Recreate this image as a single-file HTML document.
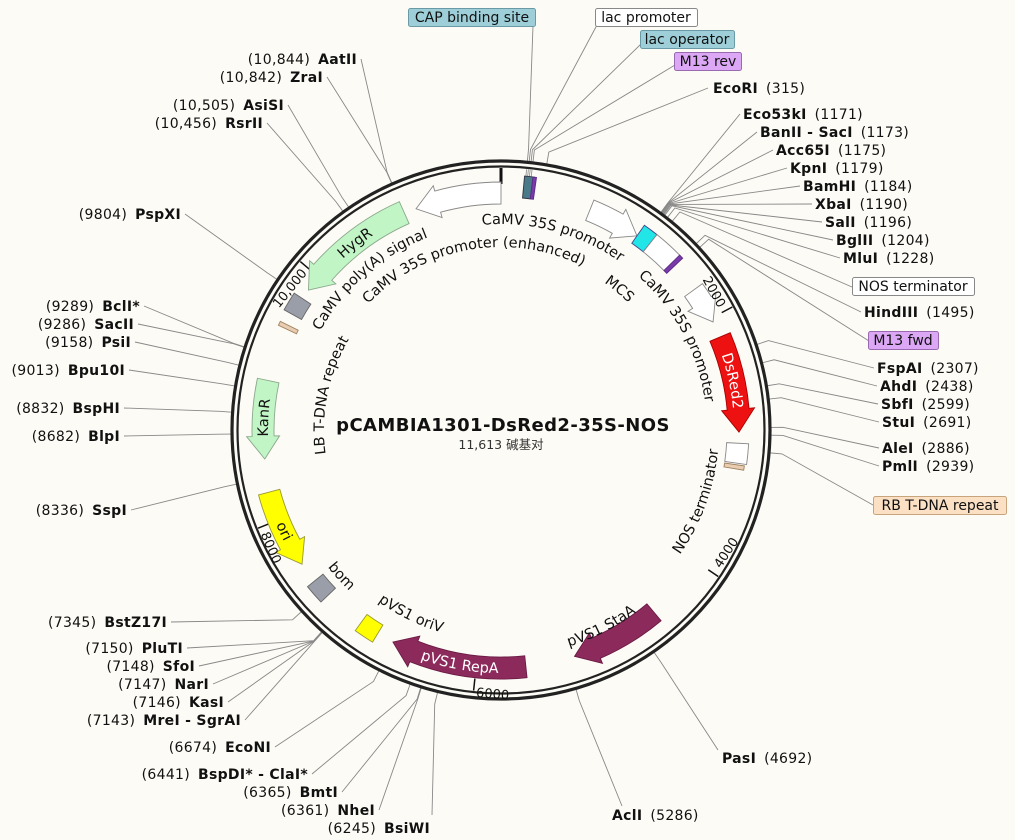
<!DOCTYPE html>
<html><head><meta charset="utf-8">
<style>
html,body{margin:0;padding:0;background:#fdfbf5;}
svg{display:block;font-family:"DejaVu Sans","Liberation Sans","Noto Sans CJK SC",sans-serif;}
.lb{font-size:14px;fill:#111;letter-spacing:0.3px;}
.lb .b{font-weight:bold;}
.ft{font-size:14.5px;fill:#111;}
.bx{font-size:14px;fill:#111;}
.tk{font-size:13px;fill:#111;}
</style></head>
<body>
<svg id="s" width="1015" height="840" viewBox="0 0 1015 840" xmlns="http://www.w3.org/2000/svg">
<rect width="1015" height="840" fill="#fdfbf5"/>
<defs id="defs"></defs>
<g id="lines" stroke="#888" stroke-width="0.9" fill="none"></g>
<g id="ring"></g>
<g id="feat"></g>

<!-- top feature boxes -->
<rect x="408.5" y="8.5" width="127" height="18" rx="2" fill="#9ecfd8" stroke="#6a9aa6"/>
<text class="bx" x="472" y="22" text-anchor="middle">CAP binding site</text>
<rect x="595.5" y="8.5" width="102" height="18" rx="2" fill="#fff" stroke="#888"/>
<text class="bx" x="646" y="22" text-anchor="middle">lac promoter</text>
<rect x="640.5" y="30.5" width="94" height="18" rx="2" fill="#9ecfd8" stroke="#6a9aa6"/>
<text class="bx" x="687" y="44" text-anchor="middle">lac operator</text>
<rect x="674.5" y="52.5" width="67" height="18" rx="2" fill="#dca8f5" stroke="#9a6ab0"/>
<text class="bx" x="708" y="66" text-anchor="middle">M13 rev</text>
<rect x="852.5" y="277.5" width="122" height="18" rx="2" fill="#fff" stroke="#888"/>
<text class="bx" x="913" y="291" text-anchor="middle">NOS terminator</text>
<rect x="868.5" y="331.5" width="70" height="18" rx="2" fill="#dca8f5" stroke="#9a6ab0"/>
<text class="bx" x="903" y="345" text-anchor="middle">M13 fwd</text>
<rect x="873.5" y="496.5" width="133" height="18" rx="2" fill="#fbe0c4" stroke="#c8a47c"/>
<text class="bx" x="940" y="510" text-anchor="middle">RB T-DNA repeat</text>

<!-- right labels -->
<g class="lb">
<text x="713" y="93"><tspan class="b">EcoRI</tspan><tspan dx="8">(315)</tspan></text>
<text x="743" y="119"><tspan class="b">Eco53kI</tspan><tspan dx="8">(1171)</tspan></text>
<text x="760" y="137"><tspan class="b">BanII - SacI</tspan><tspan dx="8">(1173)</tspan></text>
<text x="776" y="155"><tspan class="b">Acc65I</tspan><tspan dx="8">(1175)</tspan></text>
<text x="790" y="173"><tspan class="b">KpnI</tspan><tspan dx="8">(1179)</tspan></text>
<text x="803" y="191"><tspan class="b">BamHI</tspan><tspan dx="8">(1184)</tspan></text>
<text x="815" y="209"><tspan class="b">XbaI</tspan><tspan dx="8">(1190)</tspan></text>
<text x="825" y="227"><tspan class="b">SalI</tspan><tspan dx="8">(1196)</tspan></text>
<text x="836" y="245"><tspan class="b">BglII</tspan><tspan dx="8">(1204)</tspan></text>
<text x="843" y="263"><tspan class="b">MluI</tspan><tspan dx="8">(1228)</tspan></text>
<text x="864" y="317"><tspan class="b">HindIII</tspan><tspan dx="8">(1495)</tspan></text>
<text x="877" y="373"><tspan class="b">FspAI</tspan><tspan dx="8">(2307)</tspan></text>
<text x="880" y="391"><tspan class="b">AhdI</tspan><tspan dx="8">(2438)</tspan></text>
<text x="881" y="409"><tspan class="b">SbfI</tspan><tspan dx="8">(2599)</tspan></text>
<text x="882" y="427"><tspan class="b">StuI</tspan><tspan dx="8">(2691)</tspan></text>
<text x="882" y="453"><tspan class="b">AleI</tspan><tspan dx="8">(2886)</tspan></text>
<text x="882" y="471"><tspan class="b">PmlI</tspan><tspan dx="8">(2939)</tspan></text>
<text x="722" y="763"><tspan class="b">PasI</tspan><tspan dx="8">(4692)</tspan></text>
<text x="612" y="820"><tspan class="b">AclI</tspan><tspan dx="8">(5286)</tspan></text>
</g>
<!-- left labels -->
<g class="lb" text-anchor="end">
<text x="357" y="64">(10,844)<tspan class="b" dx="8">AatII</tspan></text>
<text x="323" y="82">(10,842)<tspan class="b" dx="8">ZraI</tspan></text>
<text x="284" y="110">(10,505)<tspan class="b" dx="8">AsiSI</tspan></text>
<text x="263" y="128">(10,456)<tspan class="b" dx="8">RsrII</tspan></text>
<text x="181" y="219">(9804)<tspan class="b" dx="8">PspXI</tspan></text>
<text x="140" y="311">(9289)<tspan class="b" dx="8">BclI*</tspan></text>
<text x="134" y="329">(9286)<tspan class="b" dx="8">SacII</tspan></text>
<text x="131" y="347">(9158)<tspan class="b" dx="8">PsiI</tspan></text>
<text x="125" y="375">(9013)<tspan class="b" dx="8">Bpu10I</tspan></text>
<text x="120" y="413">(8832)<tspan class="b" dx="8">BspHI</tspan></text>
<text x="120" y="441">(8682)<tspan class="b" dx="8">BlpI</tspan></text>
<text x="127" y="515">(8336)<tspan class="b" dx="8">SspI</tspan></text>
<text x="167" y="627">(7345)<tspan class="b" dx="8">BstZ17I</tspan></text>
<text x="183" y="653">(7150)<tspan class="b" dx="8">PluTI</tspan></text>
<text x="195" y="671">(7148)<tspan class="b" dx="8">SfoI</tspan></text>
<text x="209" y="689">(7147)<tspan class="b" dx="8">NarI</tspan></text>
<text x="224" y="707">(7146)<tspan class="b" dx="8">KasI</tspan></text>
<text x="241" y="725">(7143)<tspan class="b" dx="8">MreI - SgrAI</tspan></text>
<text x="271" y="752">(6674)<tspan class="b" dx="8">EcoNI</tspan></text>
<text x="308" y="779">(6441)<tspan class="b" dx="8">BspDI* - ClaI*</tspan></text>
<text x="338" y="797">(6365)<tspan class="b" dx="8">BmtI</tspan></text>
<text x="375" y="815">(6361)<tspan class="b" dx="8">NheI</tspan></text>
<text x="430" y="833">(6245)<tspan class="b" dx="8">BsiWI</tspan></text>
</g>

<!-- centre -->
<text x="503" y="431" text-anchor="middle" font-size="18" font-weight="bold" fill="#111" letter-spacing="0.4">pCAMBIA1301-DsRed2-35S-NOS</text>
<text x="501" y="449" text-anchor="middle" font-size="12.5" fill="#333" font-family="'DejaVu Sans','Noto Sans CJK SC',sans-serif">11,613 碱基对</text>

<!-- curved feature labels -->
<g class="ft">
<text><textPath href="#tp1" startOffset="50%" text-anchor="middle">CaMV 35S promoter</textPath></text>
<text><textPath href="#tp2" startOffset="50%" text-anchor="middle">CaMV 35S promoter (enhanced)</textPath></text>
<text><textPath href="#tp3" startOffset="50%" text-anchor="middle">CaMV poly(A) signal</textPath></text>
<text><textPath href="#tp4" startOffset="50%" text-anchor="middle">MCS</textPath></text>
<text><textPath href="#tp5" startOffset="50%" text-anchor="middle">CaMV 35S promoter</textPath></text>
<text><textPath href="#tp6" startOffset="50%" text-anchor="middle">NOS terminator</textPath></text>
<text><textPath href="#tp7" startOffset="50%" text-anchor="middle">LB T-DNA repeat</textPath></text>
<text><textPath href="#tp8" startOffset="50%" text-anchor="middle">HygR</textPath></text>
<text><textPath href="#tp9" startOffset="50%" text-anchor="middle">KanR</textPath></text>
<text><textPath href="#tp10" startOffset="50%" text-anchor="middle">ori</textPath></text>
<text><textPath href="#tp11" startOffset="50%" text-anchor="middle">bom</textPath></text>
<text><textPath href="#tp12" startOffset="50%" text-anchor="middle">pVS1 oriV</textPath></text>
<text fill="#fff"><textPath href="#tp13" startOffset="50%" text-anchor="middle">pVS1 RepA</textPath></text>
<text><textPath href="#tp14" startOffset="50%" text-anchor="middle">pVS1 StaA</textPath></text>
<text fill="#fff"><textPath href="#tp15" startOffset="50%" text-anchor="middle">DsRed2</textPath></text>
</g>
<text id="t2000" class="tk" text-anchor="end">2000</text>
<text id="t4000" class="tk" text-anchor="start">4000</text>
<text id="t6000" class="tk" text-anchor="start">6000</text>
<text id="t8000" class="tk" text-anchor="start">8000</text>
<text id="t10000" class="tk" text-anchor="end">10,000</text>

<script>
(function(){
var NS="http://www.w3.org/2000/svg",cx=501,cy=430,L=11613;
function P(a,r){var t=a*Math.PI/180;return [cx+r*Math.sin(t),cy-r*Math.cos(t)];}
function f(p){return p[0].toFixed(2)+","+p[1].toFixed(2);}
function el(tag,attrs,parent){var e=document.createElementNS(NS,tag);for(var k in attrs)e.setAttribute(k,attrs[k]);parent.appendChild(e);return e;}
var defs=document.getElementById("defs"),lines=document.getElementById("lines"),ring=document.getElementById("ring"),feat=document.getElementById("feat");
function arcD(s,e,r){var sw=e>s?1:0,lg=Math.abs(e-s)>180?1:0;return "M"+f(P(s,r))+" A"+r+","+r+" 0 "+lg+" "+sw+" "+f(P(e,r));}
el("circle",{cx:cx,cy:cy,r:269,fill:"none",stroke:"#222","stroke-width":3.2},ring);
el("circle",{cx:cx,cy:cy,r:263.5,fill:"none",stroke:"#222","stroke-width":2.2},ring);
[0,2000,4000,6000,8000,10000].forEach(function(b){var a=b/L*360;el("path",{d:"M"+f(P(a,262))+" L"+f(P(a,b==0?246:250)),stroke:"#111","stroke-width":b==0?3:1.5},ring);});
function place(id,a,r,rot){var p=P(a,r);document.getElementById(id).setAttribute("transform","translate("+p[0].toFixed(1)+","+p[1].toFixed(1)+") rotate("+rot+")");}
place("t2000",60.8,249,61);place("t10000",309,249,-51);
place("t4000",122.3,260,-57);place("t6000",185.4,268,5);place("t8000",246.6,262,67);
function arrow(s,e,r,w,fill,stroke){var d=e>s?1:-1,h=Math.min(5.5,Math.abs(e-s)*0.6),b=e-d*h,ri=r-w/2,ro=r+w/2,ex=5.5,sw=d>0?1:0,lg=Math.abs(b-s)>180?1:0;
var D="M"+f(P(s,ri))+" A"+ri+","+ri+" 0 "+lg+" "+sw+" "+f(P(b,ri))+" L"+f(P(b,ri-ex))+" L"+f(P(e,r))+" L"+f(P(b,ro+ex))+" L"+f(P(b,ro))+" A"+ro+","+ro+" 0 "+lg+" "+(1-sw)+" "+f(P(s,ro))+" Z";
el("path",{d:D,fill:fill,stroke:stroke,"stroke-width":0.9},feat);}
function box(s,e,ri,ro,fill,stroke){var D="M"+f(P(s,ri))+" A"+ri+","+ri+" 0 0 1 "+f(P(e,ri))+" L"+f(P(e,ro))+" A"+ro+","+ro+" 0 0 0 "+f(P(s,ro))+" Z";el("path",{d:D,fill:fill,stroke:stroke,"stroke-width":0.9},feat);}
function ln(a,x,y){var p1=P(a,270),p2=P(a,282);el("polyline",{points:f(p1)+" "+f(p2)+" "+x+","+y},lines);}
function bp(n){return n/L*360;}
ln(5.6,533,26);ln(6.0,597,25);ln(6.4,641,44);ln(6.8,675,65);
[5.6,6.0,6.4,6.8].forEach(function(a){el("path",{d:"M"+f(P(a,262))+" L"+f(P(a,248)),stroke:"#888","stroke-width":0.8,fill:"none"},lines);});
ln(bp(315),708,88);
[[1171,740,114],[1173,757,132],[1175,773,150],[1179,787,168],[1184,800,186],[1190,812,204],[1196,822,222],[1204,833,240],[1228,840,258],[1270,852,287],[1495,861,312],[1530,869,341],[2307,874,368],[2438,877,386],[2599,878,404],[2691,879,422],[2886,879,448],[2939,879,466],[3060,873,505],[4692,718,750],[5286,622,806]].forEach(function(q){ln(bp(q[0]),q[1],q[2]);});
[[10844,361,59],[10842,327,77],[10505,288,105],[10456,267,123],[9804,185,214],[9289,144,306],[9286,138,324],[9158,135,342],[9013,129,370],[8832,124,408],[8682,124,436],[8336,131,510],[7345,171,622],[7150,187,648],[7148,199,666],[7147,213,684],[7146,228,702],[7143,245,720],[6674,275,747],[6441,312,774],[6365,342,792],[6361,379,810],[6245,432,815]].forEach(function(q){ln(bp(q[0]),q[1],q[2]);});
var W="#fff",G="#888";
arrow(0,-21,237,22,W,G);
arrow(-24,-54,238,24,"#c2f5c6","#8aa88c");
box(-61,-56.5,228,248,"#9a9ea8","#666");
box(-64.8,-63.8,226,246,"#e8cdb0","#a08060");
arrow(-78,-97,238,22,"#c2f5c6","#8aa88c");
arrow(-105,-124,240,22,"#ffff00","#999933");
box(226.3,231,229,249,"#9a9ea8","#666");
box(211.2,216,228,248,"#ffff00","#999933");
arrow(174,207,238,22,"#8c2a5c","#6a1a44");
arrow(140,162,238,22,"#8c2a5c","#6a1a44");
arrow(67,90.5,238,22,"#ee1111","#aa0000");
arrow(54,63,238,22,W,G);
arrow(22,35,237,22,W,G);
box(35,38.6,228,250,"#22e5e8","#448");
box(38.6,46,228,250,W,G);
box(45.6,46.6,228,250,"#7a3aa8","#5a2a88");
box(93.2,98,226,248,W,G);
box(98.4,99.4,226,246,"#e8cdb0","#a08060");
box(5.3,7.6,233,255,"#4a7a88","#334");
box(7.2,8.0,233,255,"#7a3aa8","#5a2a88");
function tp(id,s,e,r){el("path",{id:id,d:arcD(s,e,r)},defs);}
tp("tp1",-45,75,206);tp("tp2",-80,60,183);tp("tp3",-95,13,206);tp("tp4",-20,100,180);
tp("tp5",2,122,206);tp("tp6",160,60,218);tp("tp7",-130,-27,177);tp("tp8",-88,12,233);
tp("tp9",-137,-37,233);tp("tp10",-60,-170,244);tp("tp11",280,175,221);tp("tp12",260,152,211);
tp("tp13",240,140,243);tp("tp14",203,103,227);tp("tp15",28,128,233);
})();
</script>
</svg>
</body></html>
